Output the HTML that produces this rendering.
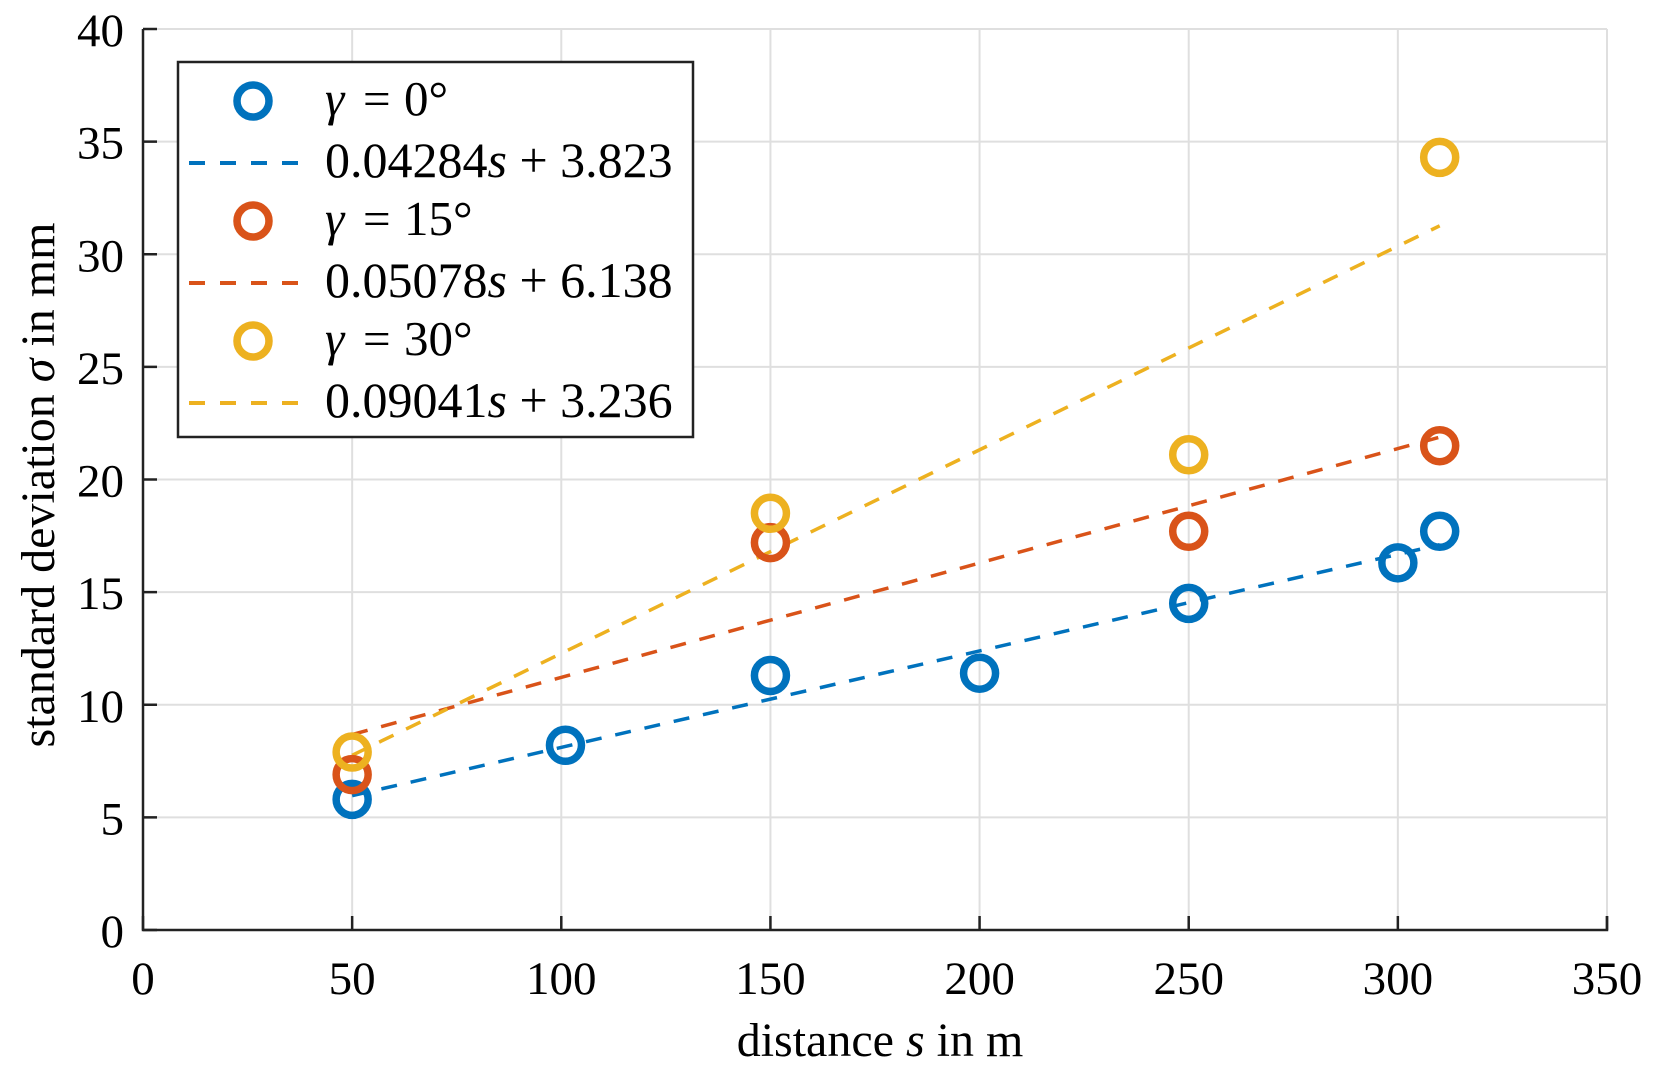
<!DOCTYPE html>
<html><head><meta charset="utf-8"><style>
html,body{margin:0;padding:0;background:#fff;}
svg{display:block;font-family:"Liberation Serif",serif;}
</style></head><body>
<svg id="chart" width="1663" height="1069" viewBox="0 0 1663 1069" xmlns="http://www.w3.org/2000/svg">
<g id="grid"></g>
<g id="fits"></g>
<g id="points"></g>
<g id="axes"></g>
<text x="880" y="1056" font-size="48" text-anchor="middle">distance <tspan font-style="italic">s</tspan> in m</text>
<text transform="translate(54,485) rotate(-90)" font-size="48" text-anchor="middle">standard deviation <tspan font-style="italic">σ</tspan> in mm</text>
<g id="legend"></g>
</svg>
<script>
const xTicks = [0,50,100,150,200,250,300,350];
const yTicks = [0,5,10,15,20,25,30,35,40];
const seriesNames = ["γ = 0°","γ = 15°","γ = 30°"];
const colors = ["#0072BD","#D95319","#EDB120"];
const xBlue = [50,101,150,200,250,300,310];
const yBlue = [5.8,8.2,11.3,11.4,14.5,16.3,17.7];
const xRed = [50,150,250,310];
const yRed = [6.9,17.2,17.7,21.5];
const xYellow = [50,150,250,310];
const yYellow = [7.9,18.5,21.1,34.3];
const slopes = [0.04284,0.05078,0.09041];
const intercepts = [3.823,6.138,3.236];
const fitRange = [50,310];
const fitLabels = ["0.04284","0.05078","0.09041"];
const fitConst = ["3.823","6.138","3.236"];

const NS="http://www.w3.org/2000/svg";
const X0=143,X1=1607,Y0=930,Y1=29;
const sx=v=>X0+(v-0)/(350-0)*(X1-X0);
const sy=v=>Y0-(v-0)/(40-0)*(Y0-Y1);
function mk(tag,attrs,parent){const e=document.createElementNS(NS,tag);for(const k in attrs)e.setAttribute(k,attrs[k]);parent.appendChild(e);return e;}
const grid=document.getElementById('grid'),axes=document.getElementById('axes');
xTicks.forEach(t=>{
  const g=mk('line',{x1:sx(t),x2:sx(t),y1:Y1,y2:Y0,stroke:'#dfdfdf','stroke-width':2},grid);
  
  
  const tk=mk('line',{x1:sx(t),x2:sx(t),y1:Y0,y2:Y0-14,stroke:'#222','stroke-width':2.5},axes);
  
  
  const tl=mk('text',{x:sx(t),y:994,'font-size':47,'text-anchor':'middle'},axes);
  tl.textContent=t;
  
  
});
yTicks.forEach(t=>{
  const g=mk('line',{x1:X0,x2:X1,y1:sy(t),y2:sy(t),stroke:'#dfdfdf','stroke-width':2},grid);
  
  
  const tk=mk('line',{x1:X0,x2:X0+14,y1:sy(t),y2:sy(t),stroke:'#222','stroke-width':2.5},axes);
  
  
  const tl=mk('text',{x:124,y:sy(t)+17,'font-size':47,'text-anchor':'end'},axes);
  tl.textContent=t;
  
  
});
const ax=mk('path',{d:`M${X0},${Y1} V${Y0} H${X1} V${Y0-14}`,fill:'none',stroke:'#222','stroke-width':2.5},axes);



const fits=document.getElementById('fits'),pts=document.getElementById('points');
for(let i=0;i<3;i++){
  const l=mk('line',{x1:sx(fitRange[0]),y1:sy(slopes[i]*fitRange[0]+intercepts[i]),x2:sx(fitRange[1]),y2:sy(slopes[i]*fitRange[1]+intercepts[i]),stroke:colors[i],'stroke-width':3.5,'stroke-dasharray':'16 14'},fits);
  
  
}
const xs=[xBlue,xRed,xYellow],ys=[yBlue,yRed,yYellow];
for(let i=0;i<3;i++){
  xs[i].forEach((x,j)=>{
    const c=mk('circle',{cx:sx(x),cy:sy(ys[i][j]),r:16,fill:'none',stroke:colors[i],'stroke-width':7.5},pts);
    
    
  });
}
const lg=document.getElementById('legend');
const box=mk('rect',{x:178,y:62,width:515,height:375,fill:'#fff',stroke:'#222','stroke-width':2.5},lg);


for(let i=0;i<3;i++){
  const yb=115+i*120, yl=177+i*120;
  const c=mk('circle',{cx:253,cy:yb-14,r:16,fill:'none',stroke:colors[i],'stroke-width':7.5},lg);
  
  
  const t=mk('text',{x:325,y:yb,'font-size':49},lg);
  t.innerHTML='<tspan font-style="italic">γ</tspan><tspan x="363">=</tspan><tspan x="404">'+seriesNames[i].split('= ')[1]+'</tspan>';
  
  
  const l=mk('line',{x1:189,x2:300,y1:yl-14,y2:yl-14,stroke:colors[i],'stroke-width':4,'stroke-dasharray':'16 15'},lg);
  
  
  const t2=mk('text',{x:325,y:yl,'font-size':50},lg);
  t2.innerHTML=fitLabels[i]+'<tspan font-style="italic">s</tspan> + '+fitConst[i];
  
  
}
</script>
</body></html>
